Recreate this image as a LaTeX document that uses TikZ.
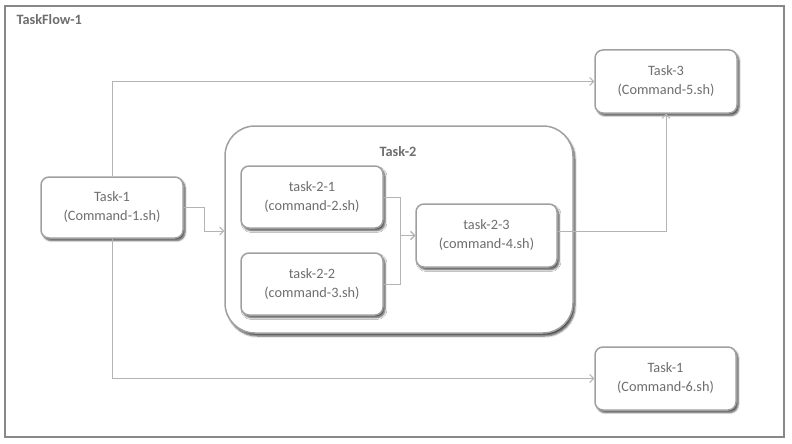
\documentclass[tikz,border=0pt]{standalone}
\usepackage{fontspec}
\setmainfont{Carlito}
\usetikzlibrary{arrows.meta,shadows.blur,positioning}
\definecolor{txt}{HTML}{6E6E6E}
\definecolor{bord}{HTML}{A0A0A0}
\definecolor{conn}{HTML}{B4B4B4}
\definecolor{frame}{HTML}{888888}
\tikzset{
  taskbox/.style={draw=bord, line width=1.5pt, rounded corners=8pt, fill=white,
    minimum width=#1, align=center, text=txt, font=\fontsize{14.3}{19}\selectfont,
    blur shadow={shadow xshift=2pt, shadow yshift=-2.5pt, shadow blur steps=5, shadow opacity=70}},
  taskbox/.default=142pt,
  groupbox/.style={draw=bord, line width=1.5pt, rounded corners=30pt, fill=white,
    blur shadow={shadow xshift=2pt, shadow yshift=-3pt, shadow blur steps=5, shadow opacity=70}},
  conn/.style={draw=conn, line width=0.9pt, -{Straight Barb[length=4pt,width=8pt]}},
  title/.style={text=txt, font=\fontsize{14.3}{17}\selectfont\bfseries}
}
\begin{document}
\begin{tikzpicture}[x=1pt,y=-1pt]
\useasboundingbox (0,0) rectangle (792,444);
\node[draw=frame, line width=2pt, minimum width=779pt, minimum height=431pt, inner sep=0pt] (frame) at (394.5,221.5) {};
\node[title, anchor=west] (flowtitle) at (13,20) {TaskFlow-1};

\node[groupbox, minimum width=348pt, minimum height=207pt] (t2) at (399,229.5) {};
\node[title] (t2title) at (398,152) {Task-2};

\node[taskbox, minimum height=61pt] (t1) at (112,207.5) {Task-1\\(Command-1.sh)};
\node[taskbox, minimum height=62pt] (t21) at (312,197) {task-2-1\\(command-2.sh)};
\node[taskbox, minimum height=62pt] (t22) at (312,284) {task-2-2\\(command-3.sh)};
\node[taskbox=141pt, minimum height=63pt] (t23) at (486.5,235.5) {task-2-3\\(command-4.sh)};
\node[taskbox, minimum height=63pt] (t3) at (666,81.5) {Task-3\\(Command-5.sh)};
\node[taskbox=141pt, minimum height=63pt] (t1b) at (665.5,378.5) {Task-1\\(Command-6.sh)};

\draw[conn] (t1.north) |- (t3.west);
\draw[conn] (t1.south) |- (t1b.west);
\draw[conn] (t1.east) -- ++(21,0) |- ([yshift=-1.5pt]t2.west);
\draw[conn] (t21.east) -- ++(17,0) |- (t23.west);
\draw[conn] (t22.east) -- ++(17,0) |- (t23.west);
\draw[conn] ([yshift=4.5pt]t23.east) -| (t3.south);
\end{tikzpicture}
\end{document}
